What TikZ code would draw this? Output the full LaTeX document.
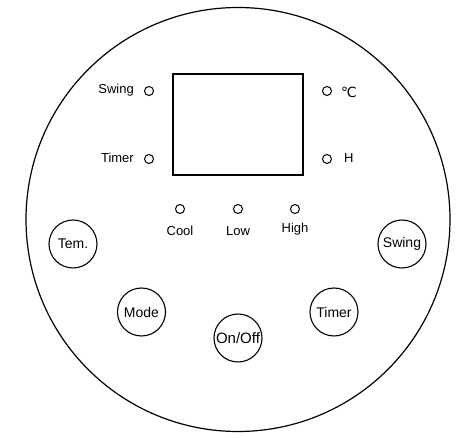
\documentclass[tikz,border=0pt]{standalone}
\usepackage{fontspec}
\setmainfont{Liberation Sans}
\newfontfamily\dejavu{DejaVu Sans}
\begin{document}
\begin{tikzpicture}[x=1pt,y=-1pt,
  led/.style={circle,draw,line width=1pt,minimum size=9pt,inner sep=0pt},
  btn/.style={circle,draw,line width=1.1pt,minimum size=48pt,inner sep=0pt,font=\fontsize{14}{16}\selectfont},
  lbl/.style={inner sep=0pt,font=\fontsize{13}{15}\selectfont}]
\useasboundingbox (0,0) rectangle (467,438);
\node[circle,draw,line width=1.2pt,minimum size=424pt,inner sep=0pt] (panel) at (238,219.5) {};
\node[draw,line width=1.1pt,minimum width=130pt,minimum height=101pt,inner sep=0pt] (screen) at (238,124.5) {};
% side LEDs
\node[led] (lswing) at (149,91) {};
\node[led] (ltimer) at (149,159) {};
\node[led] (lc) at (327,91) {};
\node[led] (lh) at (327,159) {};
\node[lbl,anchor=east] (tswing) at (134,90) {Swing};
\node[lbl,anchor=east] (ttimer) at (134,158) {Timer};
\node[lbl,anchor=west,font=\dejavu\fontsize{14}{16}\selectfont] (tc) at (341,92) {℃};
\node[lbl,anchor=west] (th) at (344,158) {H};
% mode LEDs
\node[led] (lcool) at (180,209) {};
\node[led] (llow) at (238,209) {};
\node[led] (lhigh) at (295,209) {};
\node[lbl] (tcool) at (180,231) {Cool};
\node[lbl] (tlow) at (238,231) {Low};
\node[lbl] (thigh) at (295,229.5) {High};
% buttons
\node[btn] (btem) at (73,244) {Tem.};
\node[btn] (bswing) at (402,244) {Swing};
\node[btn] (bmode) at (141.5,312) {Mode};
\node[btn] (btimer) at (334,312) {Timer};
\node[btn,font=\fontsize{15}{17}\selectfont] (bonoff) at (238,338) {On/Off};
\end{tikzpicture}
\end{document}
